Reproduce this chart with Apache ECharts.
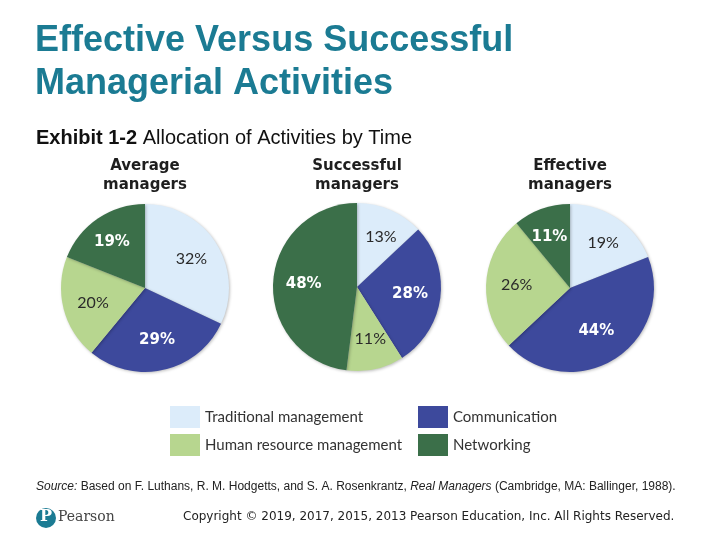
<!DOCTYPE html>
<html>
<head>
<meta charset="utf-8">
<script src="https://cdn.jsdelivr.net/npm/echarts@6/dist/echarts.min.js"></script>
<style>
  html, body { margin: 0; padding: 0; background: #fff; }
  #main { width: 720px; height: 540px; }
</style>
</head>
<body>
<div id="main"></div>
<script>
// categories, clockwise from 12 o'clock
const categories = ['Traditional management', 'Communication', 'Human resource management', 'Networking']
const averageValues = [32, 29, 20, 19]
const successfulValues = [13, 28, 11, 48]
const effectiveValues = [19, 44, 26, 11]
const pieTitles = ['Average\nmanagers', 'Successful\nmanagers', 'Effective\nmanagers']

const colors = ['#dcecfa', '#3d499c', '#b7d68f', '#3b6f49']
const darkSlice = [false, true, false, true]
const centers = [[145, 288], [357, 287], [570, 288]]

function makeData(values) {
  return categories.map((name, i) => ({
    name: name,
    value: values[i],
    itemStyle: { color: colors[i] },
    label: darkSlice[i]
      ? { color: '#fff', fontWeight: 'bold', fontFamily: 'DejaVu Sans', fontSize: 15 }
      : { color: '#2a2a2a', fontWeight: 'normal', fontFamily: 'Lato', fontSize: 16 }
  }))
}

function makePie(values, idx) {
  return {
    type: 'pie',
    center: centers[idx],
    radius: 84,
    startAngle: 90,
    clockwise: true,
    silent: true,
    animation: false,
    itemStyle: { shadowBlur: 3, shadowColor: 'rgba(0,0,0,0.25)', shadowOffsetX: 1, shadowOffsetY: 1 },
    label: {
      show: true,
      position: 'inside',
      formatter: '{c}%'
    },
    labelLine: { show: false },
    // push the inside labels a bit further out, like the original
    labelLayout: function (params) {
      const c = centers[idx]
      const r = params.rect
      const mx = r.x + r.width / 2
      const my = r.y + r.height / 2
      return {
        dx: (mx - c[0]) * 0.2,
        dy: (my - c[1]) * 0.2
      }
    },
    data: makeData(values)
  }
}

const chart = echarts.init(document.getElementById('main'))

const pieTitleGraphics = pieTitles.map((t, i) => ({
  type: 'text',
  x: centers[i][0],
  y: 157,
  style: {
    text: t,
    align: 'center',
    verticalAlign: 'top',
    fontSize: 15,
    lineHeight: 19,
    fontWeight: 'bold',
    fontFamily: 'DejaVu Sans',
    fill: '#1e1e1e'
  }
}))

const legendBase = {
  top: 401,
  orient: 'vertical',
  itemWidth: 30,
  itemHeight: 22,
  itemGap: 6,
  icon: 'rect',
  selectedMode: false,
  textStyle: { fontSize: 15, color: '#333', fontFamily: 'Lato' }
}

chart.setOption({
  backgroundColor: '#fff',
  legend: [
    Object.assign({}, legendBase, { left: 165, data: [categories[0], categories[2]] }),
    Object.assign({}, legendBase, { left: 413, data: [categories[1], categories[3]] })
  ],
  series: [
    makePie(averageValues, 0),
    makePie(successfulValues, 1),
    makePie(effectiveValues, 2)
  ],
  graphic: [
    {
      type: 'text',
      left: 35,
      top: 20,
      style: {
        text: 'Effective Versus Successful\nManagerial Activities',
        fontSize: 36,
        lineHeight: 43,
        fontWeight: 'bold',
        fontFamily: 'Liberation Sans',
        fill: '#1b7b93'
      }
    },
    {
      type: 'text',
      left: 36,
      top: 128,
      style: {
        text: '{b|Exhibit 1-2} Allocation of Activities by Time',
        fontSize: 20,
        fontFamily: 'Liberation Sans',
        fill: '#111',
        rich: {
          b: { fontSize: 20, fontWeight: 'bold', fontFamily: 'Liberation Sans', fill: '#111' }
        }
      }
    },
    ...pieTitleGraphics,
    {
      type: 'text',
      left: 36,
      top: 481,
      style: {
        text: '{i|Source:} Based on F. Luthans, R. M. Hodgetts, and S. A. Rosenkrantz, {i|Real Managers} (Cambridge, MA: Ballinger, 1988).',
        fontSize: 12,
        fontFamily: 'Liberation Sans',
        fill: '#222',
        rich: {
          i: { fontSize: 12, fontStyle: 'italic', fontFamily: 'Liberation Sans', fill: '#222' }
        }
      }
    },
    {
      type: 'circle',
      shape: { cx: 46, cy: 518, r: 10 },
      style: { fill: '#1b7b93' }
    },
    {
      type: 'text',
      left: 40,
      top: 509,
      style: { text: 'P', fontSize: 16, fontWeight: 'bold', fontFamily: 'DejaVu Serif', fill: '#fff' }
    },
    {
      type: 'text',
      left: 58,
      top: 510,
      style: { text: 'Pearson', fontSize: 14, fontFamily: 'DejaVu Serif', fill: '#444' }
    },
    {
      type: 'text',
      left: 183,
      top: 511,
      style: {
        text: 'Copyright \u00a9 2019, 2017, 2015, 2013 Pearson Education, Inc. All Rights Reserved.',
        fontSize: 12,
        fontFamily: 'DejaVu Sans',
        fill: '#222'
      }
    }
  ]
})
</script>
</body>
</html>
